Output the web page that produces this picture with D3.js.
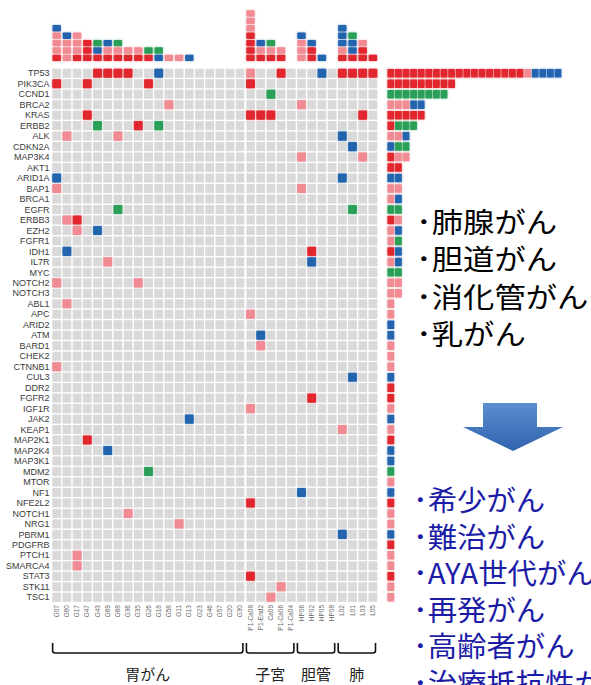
<!DOCTYPE html>
<html>
<head>
<meta charset="utf-8">
<script src="https://cdn.jsdelivr.net/npm/d3@7"></script>
<style>
  html, body { margin: 0; padding: 0; background: #ffffff; }
  svg { display: block; }
</style>
</head>
<body>
<svg id="chart" width="591" height="685"></svg>
<script>
// ---- data -------------------------------------------------------------
const genes = ["TP53","PIK3CA","CCND1","BRCA2","KRAS","ERBB2","ALK","CDKN2A","MAP3K4","AKT1",
  "ARID1A","BAP1","BRCA1","EGFR","ERBB3","EZH2","FGFR1","IDH1","IL7R","MYC",
  "NOTCH2","NOTCH3","ABL1","APC","ARID2","ATM","BARD1","CHEK2","CTNNB1","CUL3",
  "DDR2","FGFR2","IGF1R","JAK2","KEAP1","MAP2K1","MAP2K4","MAP3K1","MDM2","MTOR",
  "NF1","NFE2L2","NOTCH1","NRG1","PBRM1","PDGFRB","PTCH1","SMARCA4","STAT3","STK11","TSC1"];

const samples = ["G07","G60","G17","G47","G43","G69","G68","G36","G35","G26","G18","G58","G11","G13",
  "G23","G46","G57","G20","G30",
  "P1-Ca08","P1-End2","Ca09","P1-Ca06","P1-Ca04",
  "HP06","HP02","HP05","HP08",
  "L02","L01","L03","L05"];

const groupNames = ["胃がん","子宮","胆管","肺"];
const groupSizes = [19, 5, 4, 4];

// alteration classes, in stacking order (bottom -> top, left -> right)
const alterationTypes = ["M","V","D","A"];

// per-sample alterations: [sample, gene, class]
const alterations = [
  ["G07","PIK3CA","M"],["G07","ARID1A","D"],["G07","BAP1","V"],["G07","NOTCH2","V"],["G07","CTNNB1","V"],
  ["G60","ALK","V"],["G60","ERBB3","V"],["G60","IDH1","D"],["G60","ABL1","V"],
  ["G17","ERBB3","M"],["G17","EZH2","V"],["G17","PTCH1","V"],["G17","SMARCA4","V"],
  ["G47","PIK3CA","M"],["G47","KRAS","M"],["G47","MAP2K1","M"],
  ["G43","TP53","M"],["G43","ERBB2","A"],["G43","EZH2","D"],
  ["G69","TP53","M"],["G69","IL7R","V"],["G69","MAP2K4","D"],
  ["G68","TP53","M"],["G68","ALK","V"],["G68","EGFR","A"],
  ["G36","TP53","M"],["G36","NOTCH1","V"],
  ["G35","ERBB2","M"],["G35","NOTCH2","V"],
  ["G26","PIK3CA","M"],["G26","MDM2","A"],
  ["G18","TP53","D"],["G18","ERBB2","A"],
  ["G58","BRCA2","V"],
  ["G11","NRG1","V"],
  ["G13","JAK2","D"],
  ["P1-Ca08","TP53","V"],["P1-Ca08","PIK3CA","M"],["P1-Ca08","KRAS","M"],["P1-Ca08","APC","V"],
  ["P1-Ca08","IGF1R","V"],["P1-Ca08","NFE2L2","M"],["P1-Ca08","STAT3","M"],
  ["P1-End2","KRAS","M"],["P1-End2","ATM","D"],["P1-End2","BARD1","V"],
  ["Ca09","CCND1","A"],["Ca09","KRAS","M"],["Ca09","TSC1","V"],
  ["P1-Ca06","TP53","M"],["P1-Ca06","STK11","V"],
  ["HP06","BRCA2","V"],["HP06","MAP3K4","V"],["HP06","BAP1","V"],["HP06","NF1","D"],
  ["HP02","IDH1","M"],["HP02","IL7R","D"],["HP02","FGFR2","M"],
  ["HP05","TP53","D"],
  ["L02","TP53","M"],["L02","ALK","D"],["L02","ARID1A","D"],["L02","KEAP1","V"],["L02","PBRM1","D"],
  ["L01","TP53","M"],["L01","CDKN2A","D"],["L01","EGFR","A"],["L01","CUL3","D"],
  ["L03","TP53","M"],["L03","KRAS","M"],["L03","MAP3K4","V"],
  ["L05","TP53","M"]
];

// cohort totals per gene (aligned with genes), one array per class
const cohortM = [18,9,0,0,5,1,0,0,1,2, 0,0,0,0,1,0,0,1,0,0, 0,0,0,0,0,0,0,0,0,0, 1,1,0,0,0,1,0,0,0,0, 0,1,0,0,0,1,0,0,1,0,0];
const cohortV = [1,0,0,3,0,0,2,0,2,0, 0,2,1,0,1,1,1,0,1,0, 2,2,1,1,0,0,1,1,1,0, 0,0,1,0,1,0,0,0,0,1, 0,0,1,1,0,0,1,1,0,1,1];
const cohortD = [4,0,0,2,0,0,1,1,0,0, 2,0,1,0,0,1,0,1,1,0, 0,0,0,0,1,1,0,0,0,1, 0,0,0,1,0,0,1,1,0,0, 1,0,0,0,1,0,0,0,0,0,0];
const cohortA = [0,0,8,0,0,3,0,2,0,0, 0,0,0,2,0,0,1,0,0,2, 0,0,0,0,0,0,0,0,0,0, 0,0,0,0,0,0,0,0,1,0, 0,0,0,0,0,0,0,0,0,0,0];

const cancerTypesA = ["･肺腺がん","･胆道がん","･消化管がん","･乳がん"];
const cancerTypesB = ["･希少がん","･難治がん","･AYA世代がん","･再発がん","･高齢者がん","･治療抵抗性がん"];

// ---- drawing ----------------------------------------------------------
const svg = d3.select("#chart");
const defs = svg.append("defs");

const glow = defs.append("filter").attr("id","glow")
  .attr("x","-50%").attr("y","-50%").attr("width","200%").attr("height","200%");
glow.append("feGaussianBlur").attr("in","SourceGraphic").attr("stdDeviation",1.1).attr("result","b");
glow.append("feComponentTransfer").attr("in","b").attr("result","bf")
  .append("feFuncA").attr("type","linear").attr("slope",0.55);
const gm = glow.append("feMerge");
gm.append("feMergeNode").attr("in","bf");
gm.append("feMergeNode").attr("in","SourceGraphic");

const arrowGrad = defs.append("linearGradient").attr("id","arrowGrad")
  .attr("x1",0).attr("y1",0).attr("x2",0).attr("y2",1);
arrowGrad.append("stop").attr("offset","0%").attr("stop-color","#5b8fd0");
arrowGrad.append("stop").attr("offset","100%").attr("stop-color","#2f62ad");

const colour = d3.scaleOrdinal().domain(alterationTypes)
  .range(["#e1262d","#f08b94","#2365ae","#2a9f58"]);

const x = d3.scaleBand().domain(samples).range([51.6, 378]);
const y = d3.scaleBand().domain(genes).range([68, 602.5]);
const cw = x.bandwidth(), ch = y.bandwidth();

// background grid
svg.append("g").selectAll("rect")
  .data(d3.cross(samples, genes))
  .join("rect")
  .attr("x", d => x(d[0]) + 0.7)
  .attr("y", d => y(d[1]) + 0.7)
  .attr("width", cw - 1.4)
  .attr("height", ch - 1.4)
  .attr("fill", "#d9d9d9");

// separator between the gastric block and the others
svg.append("line")
  .attr("x1", x(samples[groupSizes[0]])).attr("x2", x(samples[groupSizes[0]]))
  .attr("y1", y(genes[0])).attr("y2", y(genes[genes.length-1]) + ch)
  .attr("stroke", "#ffffff").attr("stroke-width", 2);

// alteration cells
svg.append("g").attr("filter","url(#glow)").selectAll("rect")
  .data(alterations)
  .join("rect")
  .attr("x", d => x(d[0]) + 0.7)
  .attr("y", d => y(d[1]) + 0.7)
  .attr("width", cw - 1.4)
  .attr("height", ch - 1.4)
  .attr("rx", 1)
  .attr("fill", d => colour(d[2]));

// stacked squares above each sample
const order = t => alterationTypes.indexOf(t);
const stackData = [];
samples.forEach(s => {
  alterations.filter(a => a[0] === s)
    .sort((a, b) => order(a[2]) - order(b[2]) || genes.indexOf(a[1]) - genes.indexOf(b[1]))
    .forEach((a, i) => stackData.push({sample: s, type: a[2], k: i}));
});
const yStack = d3.scaleLinear().domain([0, 8]).range([61.6, 61.6 - 8 * 7.4]);
svg.append("g").attr("filter","url(#glow)").selectAll("rect")
  .data(stackData)
  .join("rect")
  .attr("x", d => x(d.sample) + 0.9)
  .attr("y", d => yStack(d.k + 1) + 0.5)
  .attr("width", cw - 1.8)
  .attr("height", yStack(0) - yStack(1) - 1)
  .attr("rx", 0.8)
  .attr("fill", d => colour(d.type));

// cohort bars to the right
const cohort = {M: cohortM, V: cohortV, D: cohortD, A: cohortA};
const barData = [];
genes.forEach((g, gi) => {
  let k = 0;
  alterationTypes.forEach(t => {
    for (let n = 0; n < cohort[t][gi]; n++) barData.push({gene: g, type: t, k: k++});
  });
});
const xBar = d3.scaleLinear().domain([0, 24]).range([387, 387 + 24 * 7.6]);
svg.append("g").attr("filter","url(#glow)").selectAll("rect")
  .data(barData)
  .join("rect")
  .attr("x", d => xBar(d.k) + 0.4)
  .attr("y", d => y(d.gene) + 1)
  .attr("width", xBar(1) - xBar(0) - 0.8)
  .attr("height", ch - 2)
  .attr("rx", 0.6)
  .attr("fill", d => colour(d.type));

// gene labels
svg.append("g").selectAll("text")
  .data(genes)
  .join("text")
  .attr("x", 49.5)
  .attr("y", d => y(d) + ch / 2)
  .attr("dy", "0.35em")
  .attr("text-anchor", "end")
  .attr("font-family", "'Liberation Sans', Arial, sans-serif")
  .attr("font-size", 9)
  .attr("fill", "#3a3a3a")
  .text(d => d);

// sample labels (vertical)
svg.append("g").selectAll("text")
  .data(samples)
  .join("text")
  .attr("transform", d => `translate(${x(d) + cw / 2},${605}) rotate(-90)`)
  .attr("dy", "0.33em")
  .attr("text-anchor", "end")
  .attr("font-family", "'Liberation Sans', Arial, sans-serif")
  .attr("font-size", 6.5)
  .attr("fill", "#6a6a6a")
  .text(d => d);

// group brackets and names
let start = 0;
const brackets = svg.append("g");
groupNames.forEach((name, gi) => {
  const first = samples[start], last = samples[start + groupSizes[gi] - 1];
  const x0 = x(first) + 1, x1 = x(last) + cw - 2.5;
  const top = 643, bot = 653, r = 2.5;
  const p = d3.path();
  p.moveTo(x0, top);
  p.lineTo(x0, bot - r);
  p.quadraticCurveTo(x0, bot, x0 + r, bot);
  p.lineTo(x1 - r, bot);
  p.quadraticCurveTo(x1, bot, x1, bot - r);
  p.lineTo(x1, top);
  brackets.append("path").attr("d", p.toString())
    .attr("fill", "none").attr("stroke", "#111").attr("stroke-width", 1.6);
  brackets.append("text")
    .attr("x", (x0 + x1) / 2).attr("y", 679.5)
    .attr("text-anchor", "middle")
    .attr("font-family", "'Noto Sans CJK JP', sans-serif")
    .attr("font-size", 15)
    .attr("fill", "#222")
    .text(name);
  start += groupSizes[gi];
});

// cancer type lists
const sxA = 1.12;
svg.append("g").attr("transform", `scale(${sxA},1)`).selectAll("text")
  .data(cancerTypesA)
  .join("text")
  .attr("x", 416 / sxA)
  .attr("y", (d, i) => 233 + i * 37.3)
  .attr("font-family", "'Noto Sans CJK JP', sans-serif")
  .attr("font-size", 28)
  .attr("fill", "#000")
  .text(d => d);

// arrow
svg.append("path")
  .attr("d", "M483,403 L537,403 L537,427 L563,427 L513,451 L463,427 L483,427 Z")
  .attr("fill", "url(#arrowGrad)");

const sxB = 1.05;
svg.append("g").attr("transform", `scale(${sxB},1)`).selectAll("text")
  .data(cancerTypesB)
  .join("text")
  .attr("x", 413 / sxB)
  .attr("y", (d, i) => 511 + i * 36.6)
  .attr("font-family", "'Noto Sans CJK JP', sans-serif")
  .attr("font-size", 28)
  .attr("fill", "#1c1ca6")
  .text(d => d);
</script>
</body>
</html>
